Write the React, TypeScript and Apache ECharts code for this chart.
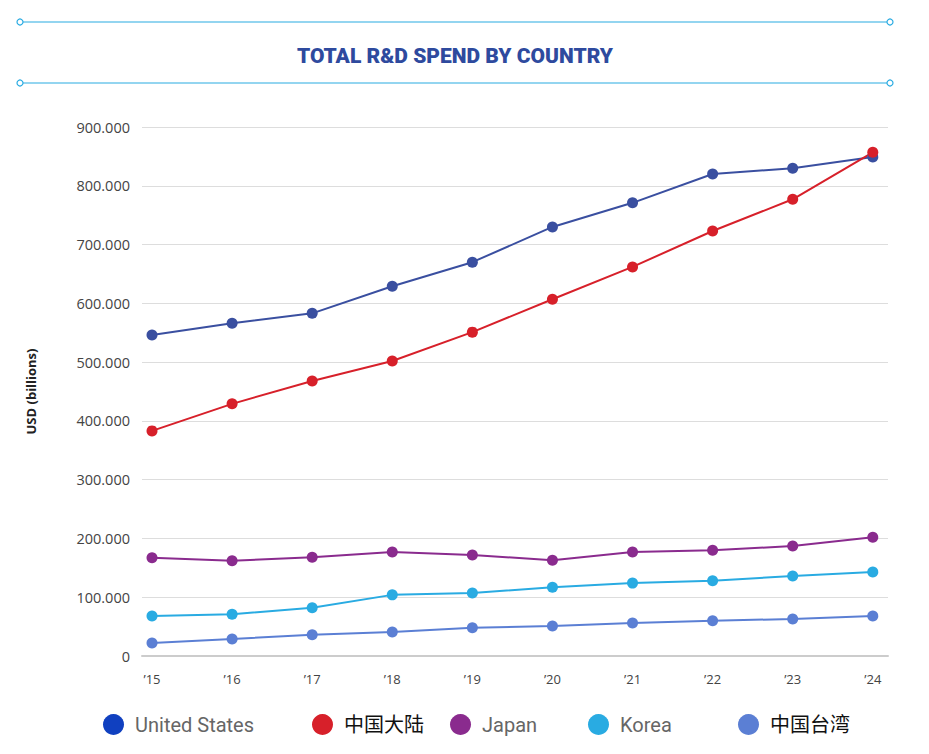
import React, { useEffect, useRef } from "react";
import * as echarts from "echarts";

const years = [2015, 2016, 2017, 2018, 2019, 2020, 2021, 2022, 2023, 2024];
const usValues = [546, 566, 583, 629, 670, 730, 771, 820, 830, 849];
const chinaValues = [383, 429, 468, 502, 551, 607, 662, 723, 777, 857];
const japanValues = [167, 162, 168, 177, 172, 163, 177, 180, 187, 202];
const koreaValues = [68, 71, 82, 104, 107, 117, 124, 128, 136, 143];
const taiwanValues = [22, 29, 36, 41, 48, 51, 56, 60, 63, 68];

const seriesDefs = [
  { name: "United States", values: usValues, color: "#3a4fa0", legendColor: "#1040c0", legendLeft: 98 },
  { name: "中国大陆", values: chinaValues, color: "#d7202a", legendColor: "#d7202a", legendLeft: 307 },
  { name: "Japan", values: japanValues, color: "#8a2b8e", legendColor: "#8a2b8e", legendLeft: 445 },
  { name: "Korea", values: koreaValues, color: "#29abe2", legendColor: "#29abe2", legendLeft: 583 },
  { name: "中国台湾", values: taiwanValues, color: "#5b7fd4", legendColor: "#5b7fd4", legendLeft: 733 },
];

export default function App() {
  const ref = useRef<HTMLDivElement>(null);
  useEffect(() => {
    if (!ref.current) return;
    const chart = echarts.init(ref.current, null, { renderer: "svg" });
    const deco = (y: number) => [
      { type: "line", shape: { x1: 23, y1: y, x2: 887, y2: y }, style: { stroke: "#29abe2", lineWidth: 1.2 } },
      { type: "circle", shape: { cx: 20, cy: y, r: 3 }, style: { fill: "#fff", stroke: "#29abe2", lineWidth: 1.2 } },
      { type: "circle", shape: { cx: 890, cy: y, r: 3 }, style: { fill: "#fff", stroke: "#29abe2", lineWidth: 1.2 } },
    ];
    chart.setOption({
      animation: false,
      backgroundColor: "#fff",
      title: {
        text: "TOTAL R&D SPEND BY COUNTRY",
        left: 450,
        top: 40,
        textAlign: "center",
        textStyle: { color: "#2e4a9e", fontSize: 21, fontWeight: 900, fontFamily: "Roboto" },
      },
      graphic: [...deco(22), ...deco(83)],
      legend: seriesDefs.map((s) => ({
        data: [{ name: s.name, itemStyle: { color: s.legendColor } }],
        left: s.legendLeft,
        top: 709,
        icon: "circle",
        itemWidth: 21,
        itemHeight: 21,
        itemGap: 0,
        textStyle: {
          fontSize: 20,
          color: /[\u4e00-\u9fff]/.test(s.name) ? "#111" : "#666",
          fontFamily: "Roboto, 'Noto Sans CJK SC'",
          padding: [0, 0, 0, 6],
        },
      })),
      grid: { left: 142, right: 41, top: 127, bottom: 98 },
      xAxis: {
        type: "value",
        min: 2014.875,
        max: 2024.19,
        splitLine: { show: false },
        axisTick: { show: false },
        axisLine: { lineStyle: { color: "#cccccc", width: 2 } },
        axisLabel: {
          customValues: years,
          formatter: (v: number) => "’" + String(v).slice(2),
          color: "#444",
          fontSize: 13,
          margin: 16,
          fontFamily: "'Open Sans'",
        },
      },
      yAxis: {
        type: "value",
        min: 0,
        max: 900,
        interval: 100,
        name: "USD (billions)",
        nameLocation: "middle",
        nameGap: 105,
        nameTextStyle: { fontSize: 13, fontWeight: "bold", color: "#222", fontFamily: "'Open Sans'" },
        axisLine: { show: false },
        axisTick: { show: false },
        splitLine: { lineStyle: { color: "#dddddd", width: 1 } },
        axisLabel: {
          formatter: (v: number) => (v === 0 ? "0" : v + ".000"),
          color: "#444",
          fontSize: 14.5,
          margin: 12,
          fontFamily: "'Open Sans'",
        },
      },
      series: seriesDefs.map((s) => ({
        name: s.name,
        type: "line",
        data: years.map((y, i) => [y, s.values[i]]),
        symbol: "circle",
        symbolSize: 11,
        lineStyle: { color: s.color, width: 2 },
        itemStyle: { color: s.color },
      })),
    });
    return () => chart.dispose();
  }, []);
  return <div ref={ref} style={{ position: "fixed", left: 0, top: 0, width: 929, height: 754 }} />;
}
